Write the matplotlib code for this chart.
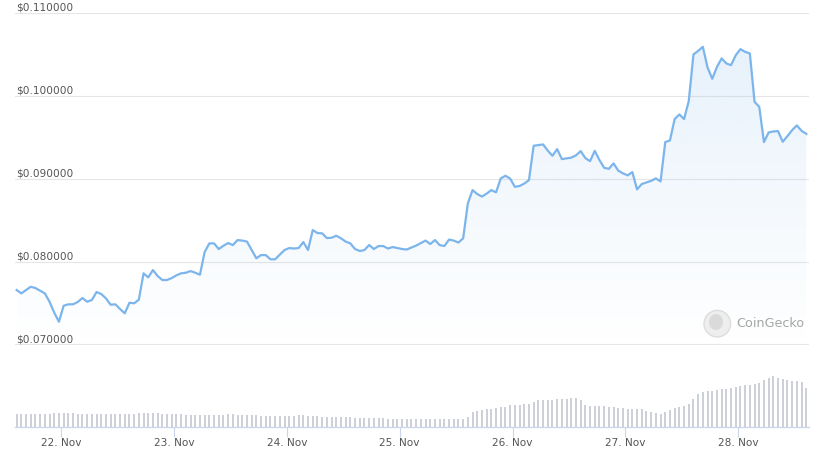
import numpy as np
import pandas as pd
import matplotlib
matplotlib.use("Agg")
import matplotlib.pyplot as plt
import matplotlib.dates as mdates
import matplotlib.transforms as mtransforms
from matplotlib.patches import PathPatch, Circle, Ellipse

# hourly samples, first one at 21 Nov 14:30
start = "2023-11-21 14:30"

price = [
    0.07657, 0.07617, 0.07657, 0.07697, 0.07681, 0.07649, 0.07617, 0.07516, 0.07384, 0.07275,
    0.07468, 0.07485, 0.07485, 0.07513, 0.07561, 0.07516, 0.07537, 0.07633, 0.07609, 0.07557,
    0.07480, 0.07485, 0.07428, 0.07376, 0.07504, 0.07497, 0.07540, 0.07859, 0.07810, 0.07898,
    0.07826, 0.07778, 0.07778, 0.07802, 0.07835, 0.07859, 0.07866, 0.07886, 0.07866, 0.07842,
    0.08116, 0.08220, 0.08220, 0.08152, 0.08192, 0.08224, 0.08200, 0.08260, 0.08254, 0.08242,
    0.08140, 0.08040, 0.08079, 0.08079, 0.08028, 0.08028, 0.08085, 0.08140, 0.08164, 0.08158,
    0.08164, 0.08236, 0.08140, 0.08381, 0.08345, 0.08341, 0.08284, 0.08288, 0.08312, 0.08281,
    0.08242, 0.08220, 0.08152, 0.08128, 0.08140, 0.08200, 0.08152, 0.08188, 0.08188, 0.08158,
    0.08176, 0.08164, 0.08152, 0.08146, 0.08170, 0.08194, 0.08224, 0.08254, 0.08212, 0.08260,
    0.08200, 0.08188, 0.08266, 0.08254, 0.08230, 0.08281, 0.08703, 0.08863, 0.08815, 0.08785,
    0.08821, 0.08863, 0.08836, 0.09004, 0.09036, 0.09002, 0.08903, 0.08912, 0.08942, 0.08984,
    0.09398, 0.09406, 0.09414, 0.09340, 0.09277, 0.09358, 0.09237, 0.09246, 0.09255, 0.09282,
    0.09334, 0.09249, 0.09213, 0.09337, 0.09225, 0.09132, 0.09120, 0.09185, 0.09098, 0.09065,
    0.09041, 0.09080, 0.08872, 0.08936, 0.08956, 0.08975, 0.09004, 0.08968, 0.09442, 0.09463,
    0.09720, 0.09776, 0.09720, 0.09937, 0.10500, 0.10543, 0.10592, 0.10343, 0.10206, 0.10350,
    0.10452, 0.10391, 0.10371, 0.10491, 0.10564, 0.10531, 0.10512, 0.09928, 0.09868, 0.09442,
    0.09559, 0.09571, 0.09575, 0.09446, 0.09515, 0.09587, 0.09644, 0.09578, 0.09542,
]

# volume, relative units
volume = [
    12.5, 12.5, 12.5, 13, 12.5, 12.5, 13, 13, 13.5, 14,
    14, 14, 13.5, 13, 13, 13, 13, 12.5, 12.5, 12.5,
    12.5, 12.5, 12.5, 12.5, 13, 13, 13.5, 14, 14, 14,
    13.5, 13, 12.5, 12.5, 12.5, 12.5, 12, 12, 12, 12,
    12, 12, 12, 12, 12, 12.5, 12.5, 12, 12, 11.5,
    11.5, 11.5, 11, 11, 11, 11, 11, 11, 11, 11,
    11.5, 11.5, 11, 10.5, 10.5, 10, 10, 10, 10, 9.5,
    9.5, 9.5, 9, 9, 9, 9, 8.5, 8.5, 8.5, 8,
    8, 8, 8, 7.5, 7.5, 7.5, 7.5, 7.5, 7.5, 7.5,
    7.5, 7.5, 7.5, 8, 8, 7.5, 10, 14.4, 16, 16.7,
    17.4, 18, 18.4, 19.4, 20, 21.4, 21.4, 21.4, 22.4, 22.4,
    25, 26.4, 26.7, 26.7, 26.7, 27.7, 27.7, 27.7, 29, 29,
    26.7, 21.7, 20.7, 20.7, 20.5, 21, 20, 20, 19, 19,
    18, 18, 18, 18, 16, 15, 14, 13, 15, 17,
    19, 20, 21, 23, 28, 33, 35, 36, 36, 37,
    38, 38, 39, 40, 41, 42, 42, 43, 44, 47,
    49, 51, 49, 48, 47, 46, 46, 45, 39,
]

grid_levels = [0.07, 0.08, 0.09, 0.10, 0.11]
tick_days = ["2023-11-22", "2023-11-23", "2023-11-24", "2023-11-25",
             "2023-11-26", "2023-11-27", "2023-11-28"]
tick_labels = ["22. Nov", "23. Nov", "24. Nov", "25. Nov", "26. Nov", "27. Nov", "28. Nov"]

times = pd.date_range(start, periods=len(price), freq="h")
t = mdates.date2num(times.to_pydatetime())
xmin = mdates.date2num(pd.Timestamp("2023-11-21 14:09"))
xmax = mdates.date2num(pd.Timestamp("2023-11-28 15:05"))
ticks = mdates.date2num(pd.to_datetime(tick_days).to_pydatetime())

LINE = "#7cb5ec"
W, H = 819, 458
fig = plt.figure(figsize=(W / 100, H / 100), dpi=100)
fig.patch.set_facecolor("white")

# price panel
ax = fig.add_axes([15 / W, (H - 344.5) / H, 794 / W, 331.5 / H])
ax.set_xlim(xmin, xmax)
ax.set_ylim(0.07, 0.11)
ax.axis("off")

trans = mtransforms.blended_transform_factory(ax.transAxes, ax.transData)
for lv in grid_levels:
    ax.axhline(lv, color="#e6e6e6", lw=0.8, zorder=0)
    ax.text(0.001, lv, "$%.6f" % lv, transform=trans, ha="left", va="bottom",
            fontsize=7.6, color="#555555", zorder=5)

fill = ax.fill_between(t, price, 0.07, color="none", lw=0)
clip = PathPatch(fill.get_paths()[0], transform=ax.transData,
                 facecolor="none", edgecolor="none")
ax.add_patch(clip)
rgb = matplotlib.colors.to_rgb(LINE)
img = np.zeros((256, 1, 4))
img[..., 0], img[..., 1], img[..., 2] = rgb
img[:, 0, 3] = np.linspace(0.2, 0.0, 256)
im = ax.imshow(img, extent=[t[0], t[-1], 0.07, 0.11], origin="upper",
               aspect="auto", zorder=1)
im.set_clip_path(clip)
ax.set_xlim(xmin, xmax)
ax.set_ylim(0.07, 0.11)

ax.plot(t, price, color=LINE, lw=1.6, zorder=3, solid_joinstyle="round")

# volume panel
ax2 = fig.add_axes([15 / W, (H - 426.7) / H, 794 / W, 66.7 / H])
ax2.bar(t, volume, width=0.018, color="#cdd0d9", lw=0)
ax2.set_xlim(xmin, xmax)
ax2.set_ylim(0, 66.7)
for s in ["top", "left", "right"]:
    ax2.spines[s].set_visible(False)
ax2.spines["bottom"].set_color("#ccd6eb")
ax2.spines["bottom"].set_linewidth(0.9)
ax2.set_yticks([])
ax2.set_xticks(ticks)
ax2.set_xticklabels(tick_labels)
ax2.tick_params(axis="x", length=7, width=0.8, color="#ccd6eb", pad=1,
                labelsize=7.6, labelcolor="#555555")
ax2.patch.set_alpha(0)

# watermark
ov = fig.add_axes([0, 0, 1, 1])
ov.set_xlim(0, W)
ov.set_ylim(H, 0)
ov.axis("off")
ov.patch.set_alpha(0)
ov.add_patch(Circle((717.3, 323.7), 13.3, facecolor="#eeeeee", edgecolor="#dddddd", lw=1))
ov.add_patch(Ellipse((716, 322), 14, 16, facecolor="#dadada", edgecolor="none"))
ov.text(736, 323.5, "CoinGecko", ha="left", va="center", fontsize=9.2, color="#a6a6a6")

plt.savefig("out.png", dpi=100)
